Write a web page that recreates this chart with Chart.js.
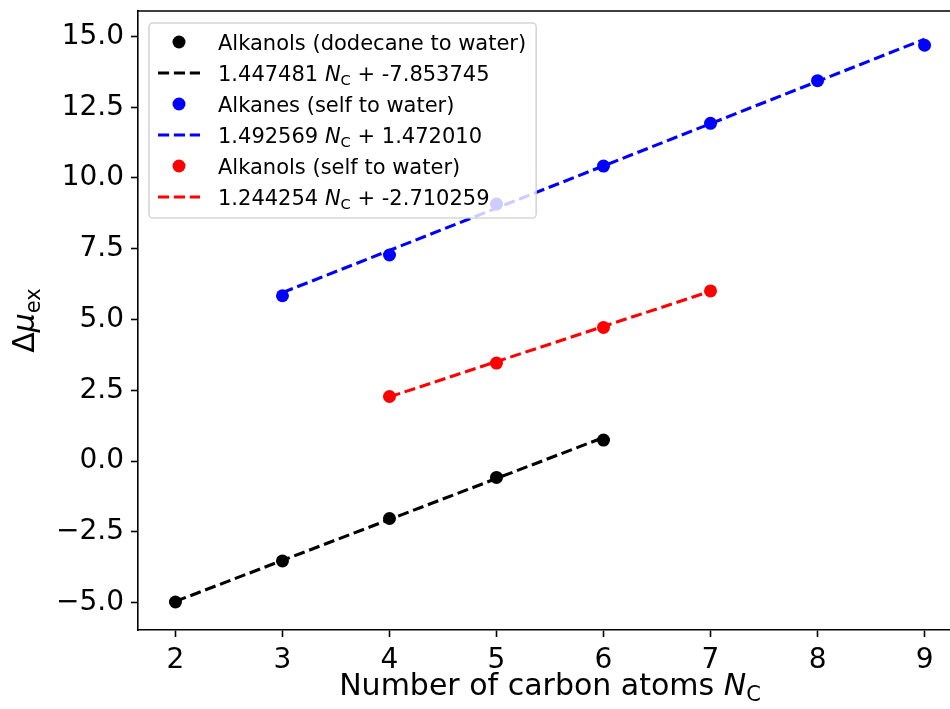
<!DOCTYPE html>
<html>
<head>
<meta charset="utf-8">
<script src="https://cdn.jsdelivr.net/npm/chart.js@4.4.0/dist/chart.umd.min.js"></script>
<style>
  html, body { margin: 0; padding: 0; background: #ffffff; overflow: hidden; }
  canvas { display: block; }
</style>
</head>
<body>
<canvas id="chart" width="980" height="709"></canvas>
<script>
// Measured excess chemical potentials against number of carbon atoms
const carbonAlkanolsDodecane = [2, 3, 4, 5, 6];
const muAlkanolsDodecane = [-4.98, -3.53, -2.03, -0.58, 0.74];
const carbonAlkanesSelf = [3, 4, 5, 6, 7, 8, 9];
const muAlkanesSelf = [5.84, 7.28, 9.08, 10.42, 11.93, 13.44, 14.69];
const carbonAlkanolsSelf = [4, 5, 6, 7];
const muAlkanolsSelf = [2.28, 3.46, 4.72, 6.01];

// Linear fits: slope * N_C + intercept
const fitSlopes = [1.447481, 1.492569, 1.244254];
const fitIntercepts = [-7.853745, 1.472010, -2.710259];

const seriesNames = ['Alkanols (dodecane to water)', 'Alkanes (self to water)', 'Alkanols (self to water)'];
const seriesColors = ['#000000', '#0000ff', '#ff0000'];

const xTicks = [2, 3, 4, 5, 6, 7, 8, 9];
const yTicks = [-5, -2.5, 0, 2.5, 5, 7.5, 10, 12.5, 15];
const xLimits = [1.65, 9.35];
const yLimits = [-5.97, 15.90];

const FONT = '"DejaVu Sans", sans-serif';
const seriesX = [carbonAlkanolsDodecane, carbonAlkanesSelf, carbonAlkanolsSelf];
const seriesY = [muAlkanolsDodecane, muAlkanesSelf, muAlkanolsSelf];
const DASH = [11.1, 4.8];

function fitLabel(i) {
  return [
    { t: fitSlopes[i].toFixed(6) + ' ' },
    { t: 'N', italic: true },
    { t: 'C', sub: true },
    { t: ' + ' + fitIntercepts[i].toFixed(6) }
  ];
}

const datasets = [];
seriesX.forEach((xs, i) => {
  datasets.push({
    label: seriesNames[i],
    data: xs.map((x, k) => ({ x: x, y: seriesY[i][k] })),
    showLine: false,
    pointRadius: 6.5,
    pointHoverRadius: 6.5,
    pointBackgroundColor: seriesColors[i],
    pointBorderWidth: 0,
    borderColor: seriesColors[i],
    order: 10 - 2 * i
  });
  const x0 = xs[0], x1 = xs[xs.length - 1];
  datasets.push({
    label: 'fit ' + seriesNames[i],
    data: [
      { x: x0, y: fitSlopes[i] * x0 + fitIntercepts[i] },
      { x: x1, y: fitSlopes[i] * x1 + fitIntercepts[i] }
    ],
    showLine: true,
    pointRadius: 0,
    borderColor: seriesColors[i],
    borderWidth: 3.1,
    borderDash: DASH,
    borderCapStyle: 'butt',
    fill: false,
    order: 9 - 2 * i
  });
});

function fontStr(size, italic) {
  return (italic ? 'italic ' : '') + size + 'px ' + FONT;
}

// Text runs made of plain, italic and subscript pieces
function richWidth(ctx, parts, size) {
  let w = 0;
  parts.forEach(p => {
    ctx.font = fontStr(p.sub ? size * 0.7 : size, p.italic);
    w += ctx.measureText(p.t).width;
  });
  return w;
}
function drawRich(ctx, parts, x, y, size) {
  ctx.textAlign = 'left';
  ctx.textBaseline = 'alphabetic';
  parts.forEach(p => {
    const s = p.sub ? size * 0.7 : size;
    ctx.font = fontStr(s, p.italic);
    ctx.fillText(p.t, x, p.sub ? y + size * 0.2 : y);
    x += ctx.measureText(p.t).width;
  });
  return x;
}

const decorPlugin = {
  id: 'decor',
  afterDraw(chart) {
    const ctx = chart.ctx;
    const a = chart.chartArea;
    ctx.save();
    // top and right spines
    ctx.strokeStyle = '#000';
    ctx.lineWidth = 1.6;
    ctx.beginPath();
    ctx.moveTo(a.left, a.top);
    ctx.lineTo(a.right, a.top);
    ctx.lineTo(a.right, a.bottom);
    ctx.stroke();

    ctx.fillStyle = '#000';
    // x axis title
    const xParts = [{ t: 'Number of carbon atoms ' }, { t: 'N', italic: true }, { t: 'C', sub: true }];
    const xs = 30;
    const xw = richWidth(ctx, xParts, xs);
    drawRich(ctx, xParts, (a.left + a.right) / 2 - xw / 2, 695, xs);

    // y axis title
    const yParts = [{ t: '\u0394' }, { t: '\u03bc', italic: true }, { t: 'ex', sub: true }];
    const ys = 30;
    const yw = richWidth(ctx, yParts, ys);
    ctx.save();
    ctx.translate(34, (a.top + a.bottom) / 2);
    ctx.rotate(-Math.PI / 2);
    drawRich(ctx, yParts, -yw / 2, 0, ys);
    ctx.restore();

    // legend
    const ls = 21;
    const rows = [];
    seriesNames.forEach((n, i) => {
      rows.push({ type: 'dot', color: seriesColors[i], parts: [{ t: n }] });
      rows.push({ type: 'line', color: seriesColors[i], parts: fitLabel(i) });
    });
    const bx = 149, by = 23, textX = 218, rowH = 31, firstRow = 42;
    let maxW = 0;
    rows.forEach(r => { maxW = Math.max(maxW, richWidth(ctx, r.parts, ls)); });
    const bw = textX + maxW + 10 - bx;
    const bh = firstRow + rowH * (rows.length - 1) + 21 - by;
    ctx.beginPath();
    ctx.roundRect(bx, by, bw, bh, 4);
    ctx.fillStyle = 'rgba(255,255,255,0.8)';
    ctx.fill();
    ctx.strokeStyle = 'rgba(204,204,204,0.8)';
    ctx.lineWidth = 1.6;
    ctx.stroke();
    rows.forEach((r, k) => {
      const cy = firstRow + k * rowH;
      if (r.type === 'dot') {
        ctx.beginPath();
        ctx.arc(179, cy, 6.5, 0, Math.PI * 2);
        ctx.fillStyle = r.color;
        ctx.fill();
      } else {
        ctx.beginPath();
        ctx.setLineDash(DASH);
        ctx.moveTo(158, cy);
        ctx.lineTo(200, cy);
        ctx.strokeStyle = r.color;
        ctx.lineWidth = 3.1;
        ctx.stroke();
        ctx.setLineDash([]);
      }
      ctx.fillStyle = '#000';
      drawRich(ctx, r.parts, textX, cy + 7.5, ls);
    });
    ctx.restore();
  }
};

const axisCommon = {
  type: 'linear',
  grid: { display: true, drawOnChartArea: false, drawTicks: true, tickLength: 7, tickWidth: 1.6, tickColor: '#000' },
  border: { display: true, color: '#000', width: 1.6 },
  title: { display: false }
};

new Chart(document.getElementById('chart'), {
  type: 'scatter',
  data: { datasets: datasets },
  options: {
    responsive: false,
    animation: false,
    events: [],
    layout: { padding: { left: 0, top: 11, right: 18, bottom: 0 } },
    plugins: { legend: { display: false }, tooltip: { enabled: false } },
    scales: {
      x: Object.assign({}, axisCommon, {
        position: 'bottom',
        min: xLimits[0], max: xLimits[1],
        afterBuildTicks: s => { s.ticks = xTicks.map(v => ({ value: v })); },
        afterFit: s => { s.height = 79; s.paddingLeft = 0; s.paddingRight = 0; },
        ticks: {
          color: '#000', padding: 7, maxRotation: 0, autoSkip: false,
          font: { family: FONT, size: 28 },
          callback: v => String(v)
        }
      }),
      y: Object.assign({}, axisCommon, {
        position: 'left',
        min: yLimits[0], max: yLimits[1],
        afterBuildTicks: s => { s.ticks = yTicks.map(v => ({ value: v })); },
        afterFit: s => { s.width = 138; s.paddingTop = 0; s.paddingBottom = 0; },
        ticks: {
          color: '#000', padding: 7, autoSkip: false,
          font: { family: FONT, size: 28 },
          callback: v => (v < 0 ? '\u2212' : '') + Math.abs(v).toFixed(1)
        }
      })
    }
  },
  plugins: [decorPlugin]
});
</script>
</body>
</html>
